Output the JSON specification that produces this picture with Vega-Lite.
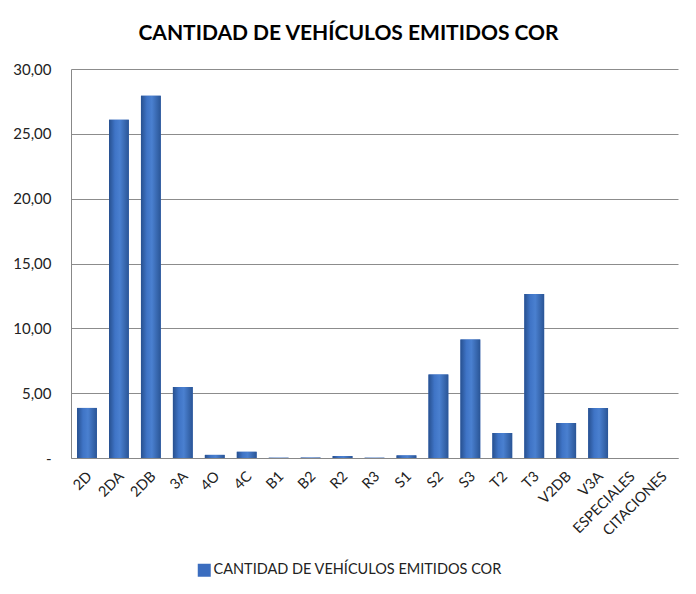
{
  "$schema": "https://vega.github.io/schema/vega-lite/v6.json",
  "autosize": {"type": "none"},
  "width": 607,
  "height": 389,
  "padding": {"left": 71, "top": 69, "right": 18, "bottom": 136},
  "background": "white",
  "title": {
    "text": "CANTIDAD DE VEHÍCULOS EMITIDOS COR",
    "font": "Lato",
    "fontSize": 21,
    "fontWeight": "bold",
    "color": "#000000",
    "anchor": "middle",
    "dx": -26,
    "offset": 18
  },
  "data": {
    "values": [
      {"tipo": "2D", "valor": 3.86, "serie": "CANTIDAD DE VEHÍCULOS EMITIDOS COR"},
      {"tipo": "2DA", "valor": 26.09, "serie": "CANTIDAD DE VEHÍCULOS EMITIDOS COR"},
      {"tipo": "2DB", "valor": 27.94, "serie": "CANTIDAD DE VEHÍCULOS EMITIDOS COR"},
      {"tipo": "3A", "valor": 5.48, "serie": "CANTIDAD DE VEHÍCULOS EMITIDOS COR"},
      {"tipo": "4O", "valor": 0.24, "serie": "CANTIDAD DE VEHÍCULOS EMITIDOS COR"},
      {"tipo": "4C", "valor": 0.48, "serie": "CANTIDAD DE VEHÍCULOS EMITIDOS COR"},
      {"tipo": "B1", "valor": 0.02, "serie": "CANTIDAD DE VEHÍCULOS EMITIDOS COR"},
      {"tipo": "B2", "valor": 0.03, "serie": "CANTIDAD DE VEHÍCULOS EMITIDOS COR"},
      {"tipo": "R2", "valor": 0.15, "serie": "CANTIDAD DE VEHÍCULOS EMITIDOS COR"},
      {"tipo": "R3", "valor": 0.02, "serie": "CANTIDAD DE VEHÍCULOS EMITIDOS COR"},
      {"tipo": "S1", "valor": 0.2, "serie": "CANTIDAD DE VEHÍCULOS EMITIDOS COR"},
      {"tipo": "S2", "valor": 6.43, "serie": "CANTIDAD DE VEHÍCULOS EMITIDOS COR"},
      {"tipo": "S3", "valor": 9.13, "serie": "CANTIDAD DE VEHÍCULOS EMITIDOS COR"},
      {"tipo": "T2", "valor": 1.93, "serie": "CANTIDAD DE VEHÍCULOS EMITIDOS COR"},
      {"tipo": "T3", "valor": 12.65, "serie": "CANTIDAD DE VEHÍCULOS EMITIDOS COR"},
      {"tipo": "V2DB", "valor": 2.7, "serie": "CANTIDAD DE VEHÍCULOS EMITIDOS COR"},
      {"tipo": "V3A", "valor": 3.86, "serie": "CANTIDAD DE VEHÍCULOS EMITIDOS COR"},
      {"tipo": "ESPECIALES", "valor": 0, "serie": "CANTIDAD DE VEHÍCULOS EMITIDOS COR"},
      {"tipo": "CITACIONES", "valor": 0, "serie": "CANTIDAD DE VEHÍCULOS EMITIDOS COR"}
    ]
  },
  "encoding": {
    "x": {
      "field": "tipo",
      "type": "nominal",
      "sort": null,
      "title": null,
      "scale": {"paddingInner": 0.38, "paddingOuter": 0.19},
      "axis": {
        "labelAngle": -45,
        "labelAlign": "right",
        "labelBaseline": "middle",
        "labelFont": "Lato",
        "labelFontSize": 14.5,
        "labelColor": "#222222",
        "labelPadding": 16,
        "labelOffset": 3,
        "ticks": false,
        "domainColor": "#888888",
        "grid": false
      }
    },
    "y": {
      "field": "valor",
      "type": "quantitative",
      "title": null,
      "scale": {"domain": [0, 30], "nice": false},
      "axis": {
        "values": [0, 5, 10, 15, 20, 25, 30],
        "labelExpr": "datum.value == 0 ? '-' : replace(format(datum.value, '.2f'), '.', ',')",
        "labelFont": "Lato",
        "labelFontSize": 15,
        "labelColor": "#222222",
        "labelPadding": 20,
        "ticks": false,
        "domainColor": "#888888",
        "gridColor": "#8c8c8c",
        "gridWidth": 1
      }
    }
  },
  "layer": [
    {
      "mark": {"type": "bar"},
      "encoding": {
        "color": {
          "field": "serie",
          "type": "nominal",
          "title": null,
          "scale": {"range": ["#3B6DBF"]},
          "legend": {
            "orient": "none",
            "legendX": 126,
            "legendY": 494,
            "direction": "horizontal",
            "symbolType": "square",
            "symbolSize": 169,
            "symbolStrokeWidth": 0,
            "labelFont": "Lato",
            "labelFontSize": 14.5,
            "labelColor": "#222222",
            "labelOffset": 2,
            "labelLimit": 0
          }
        }
      }
    },
    {
      "mark": {
        "type": "bar",
        "fill": {
          "gradient": "linear",
          "x1": 0, "y1": 0, "x2": 1, "y2": 0,
          "stops": [
            {"offset": 0, "color": "#27508F"},
            {"offset": 0.3, "color": "#3F74C6"},
            {"offset": 0.55, "color": "#4A80D0"},
            {"offset": 1, "color": "#2A5596"}
          ]
        }
      }
    }
  ],
  "config": {
    "view": {"stroke": null}
  }
}
